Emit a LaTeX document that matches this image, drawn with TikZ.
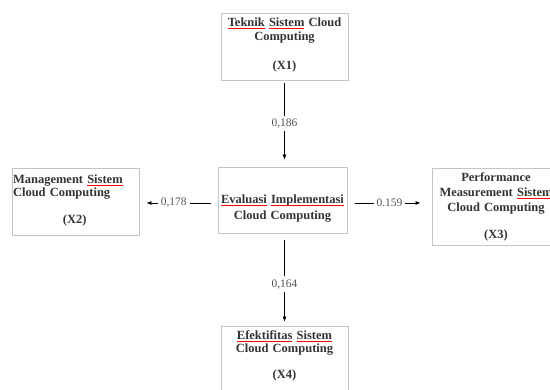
\documentclass[tikz,border=0pt]{standalone}
\usepackage{fontspec}
\setmainfont{Liberation Serif}
\usetikzlibrary{arrows.meta}
\definecolor{boxline}{HTML}{C4C4C4}
\definecolor{boxtext}{HTML}{333333}
\definecolor{coeftext}{HTML}{555555}
\definecolor{spellred}{HTML}{FF0000}
\newsavebox\ulbox
\newcommand\redul[1]{\sbox\ulbox{#1}%
  \usebox\ulbox\llap{\textcolor{spellred}{\rule[-0.5ex]{\wd\ulbox}{1pt}}}}
\begin{document}
\begin{tikzpicture}[x = 1pt, y = -1pt,
    box/.style = {draw = boxline, line width = .8pt, text = boxtext,
      font = \bfseries\fontsize{12.5}{15}\selectfont, inner sep = 1pt,
      text width = 125pt, minimum height = 67pt, align = center},
    coef/.style = {fill = white, text = coeftext, inner sep = 3pt,
      font = \fontsize{11.5}{13}\selectfont},
    arr/.style = {-{Latex[length = 5pt, width = 4pt]}, line width = .7pt}]
  \useasboundingbox (0,0) rectangle (550,390);
  \node [box] (x1) at (284.5,46.5)
    {\redul{Teknik} \redul{Sistem} Cloud\\[-1pt]Computing\\[14pt](X1)\rule[-6pt]{0pt}{6pt}};
  \node [box, align = left] (x2) at (75.5,201.5)
    {Management \redul{Sistem}\\[-2pt]Cloud Computing\\[12pt]\hspace*{50pt}(X2)\rule[-5pt]{0pt}{5pt}};
  \node [box, text width = 127pt, minimum height = 66pt] (eval) at (282.5,200)
    {\rule{0pt}{26pt}\redul{Evaluasi} \redul{Implementasi}\\[1pt]Cloud Computing};
  \node [box, text width = 126pt, minimum height = 77pt] (x3) at (496,206.5)
    {Performance\\Measurement \redul{Sistem}\\Cloud Computing\\[12pt](X3)};
  \node [box] (x4) at (284.5,359.5)
    {\redul{Efektifitas} \redul{Sistem}\\[-2pt]Cloud Computing\\[11pt](X4)\rule[-10pt]{0pt}{10pt}};
  % koefisien jalur
  \draw [arr, shorten <= 3pt, shorten >= 7pt] (x1) --
    node [coef] {0,186} (x1 |- eval.north);
  \draw [arr, shorten <= 7pt, shorten >= 7pt] ([yshift = -3pt]eval.west) --
    node [coef, pos = .56] {0,178} ([yshift = -3pt]eval.west -| x2.east);
  \draw [arr, shorten <= 8pt, shorten >= 11pt] ([yshift = -3pt]eval.east) --
    node [coef] {0.159} ([yshift = -3pt]eval.east -| x3.west);
  \draw [arr, shorten <= 7pt, shorten >= 4pt] (x4 |- eval.south) --
    node [coef, pos = .55] {0,164} (x4);
\end{tikzpicture}
\end{document}
